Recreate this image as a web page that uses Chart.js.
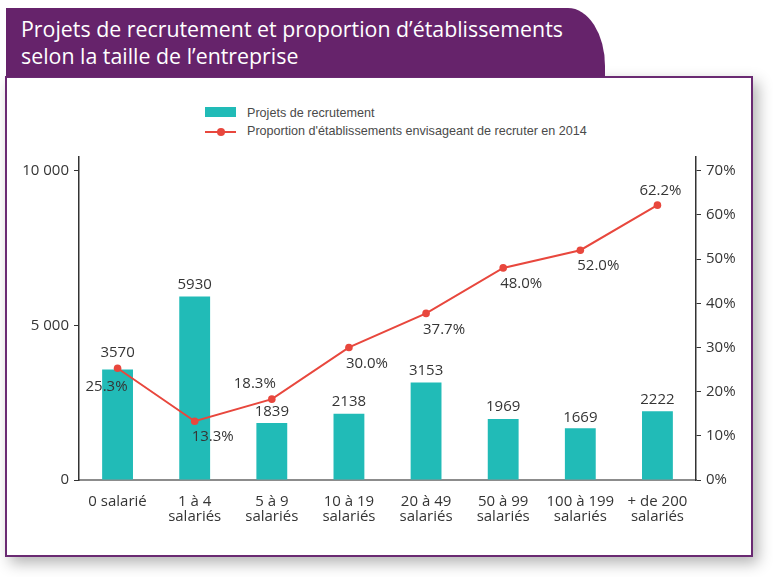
<!DOCTYPE html>
<html>
<head>
<meta charset="utf-8">
<script src="https://cdn.jsdelivr.net/npm/chart.js@4.4.0/dist/chart.umd.min.js"></script>
<style>
  html, body { margin:0; padding:0; background:#fff; }
  body { width:773px; height:577px; position:relative; overflow:hidden; }
  #box { position:absolute; left:5px; top:76px; width:748px; height:481px; box-sizing:border-box;
         border:2px solid #6a2a72; background:#fff; box-shadow:5px 6px 14px rgba(0,0,0,0.3); }
  #banner { position:absolute; left:6px; top:8px; width:599px; height:69px; background:#66236b;
            border-top-right-radius:37px 58px; }
  #title { position:absolute; left:21px; top:16px; color:#fff; font-family:"Open Sans", sans-serif;
           font-size:21px; line-height:27px; white-space:nowrap; transform-origin:0 0; }
  #title span { display:inline-block; }
  canvas#c { position:absolute; left:0; top:0; }
  .leg { position:absolute; font-family:"Liberation Sans", Arial, sans-serif; font-size:12.6px; color:#4a4a4a; white-space:nowrap; }
</style>
</head>
<body>
<div id="box"></div>
<div id="banner"></div>
<div id="title"><span id="t1">Projets de recrutement et proportion d’établissements</span><br><span id="t2">selon la taille de l’entreprise</span></div>
<div class="leg" style="left:205px; top:107px; width:31px; height:10px; background:#21bbb7;"></div>
<div class="leg" style="left:247px; top:105px; line-height:16px;">Projets de recrutement</div>
<div class="leg" style="left:205px; top:131px; width:31px; height:2px; background:#e8473d;"></div>
<div class="leg" style="left:217px; top:128px; width:8px; height:8px; border-radius:50%; background:#e8473d;"></div>
<div class="leg" style="left:247px; top:123px; line-height:16px;">Proportion d'établissements envisageant de recruter en 2014</div>
<canvas id="c" width="773" height="577"></canvas>
<script>
// ---- data ----
const categories = ['0 salarié', ['1 à 4', 'salariés'], ['5 à 9', 'salariés'], ['10 à 19', 'salariés'],
                    ['20 à 49', 'salariés'], ['50 à 99', 'salariés'], ['100 à 199', 'salariés'], ['+ de 200', 'salariés']];
const recruitmentProjects = [3570, 5930, 1839, 2138, 3153, 1969, 1669, 2222];
const establishmentShare = [25.3, 13.3, 18.3, 30.0, 37.7, 48.0, 52.0, 62.2];
const leftTicks = [0, 5000, 10000];
const rightTicks = [0, 10, 20, 30, 40, 50, 60, 70];

// label placement for the percentage labels (style only)
const shareLabelPlace = ['bl', 'br', 'tl', 'br', 'br', 'br', 'br', 't'];
const placeOffsets = { bl: [-11, 19], br: [18, 16], tl: [-17, -15], t: [3, -14] };
const barLabelLift = [17, 12, 11, 12, 12, 12, 11, 12];

// fit title width
(function () {
  const t = document.getElementById('title');
  const w = document.getElementById('t1').getBoundingClientRect().width;
  t.style.transform = 'scaleX(' + (542 / w) + ')';
})();

const FONT = '"Open Sans", sans-serif';
const TXT = '#353535';
const fmtThousands = v => String(v).replace(/\B(?=(\d{3})+(?!\d))/g, ' ');

const labelPlugin = {
  id: 'valueLabels',
  afterDatasetsDraw(chart) {
    const ctx = chart.ctx;
    ctx.save();
    ctx.font = '15px ' + FONT;
    ctx.fillStyle = TXT;
    ctx.textAlign = 'center';
    ctx.textBaseline = 'middle';
    const bars = chart.getDatasetMeta(0).data;
    bars.forEach((el, i) => {
      ctx.fillText(String(recruitmentProjects[i]), el.x, el.y - barLabelLift[i]);
    });
    const pts = chart.getDatasetMeta(1).data;
    pts.forEach((el, i) => {
      const o = placeOffsets[shareLabelPlace[i]];
      ctx.fillText(establishmentShare[i].toFixed(1) + '%', el.x + o[0], el.y + o[1]);
    });
    ctx.restore();
  }
};

new Chart(document.getElementById('c'), {
  data: {
    labels: categories,
    datasets: [
      {
        type: 'bar',
        label: 'Projets de recrutement',
        data: recruitmentProjects,
        backgroundColor: '#21bbb7',
        barPercentage: 0.5,
        categoryPercentage: 0.8,
        yAxisID: 'y',
        order: 1
      },
      {
        type: 'line',
        label: "Proportion d'établissements envisageant de recruter en 2014",
        data: establishmentShare,
        borderColor: '#e8473d',
        backgroundColor: '#e8473d',
        borderWidth: 2,
        pointRadius: 3.8,
        pointBackgroundColor: '#e8473d',
        pointBorderWidth: 0,
        tension: 0,
        yAxisID: 'y1',
        order: 0
      }
    ]
  },
  options: {
    responsive: false,
    animation: false,
    devicePixelRatio: 1,
    layout: { padding: { top: 157, left: 0, right: 0, bottom: 0 } },
    plugins: { legend: { display: false }, tooltip: { enabled: false } },
    scales: {
      x: {
        type: 'category',
        grid: { display: false, drawTicks: false },
        border: { display: true, color: '#8c8c8c', width: 2 },
        ticks: { font: { family: FONT, size: 15, lineHeight: 1.02 }, color: TXT, padding: 14,
                 maxRotation: 0, autoSkip: false },
        afterFit: s => { s.height = 97; }
      },
      y: {
        position: 'left',
        min: 0, max: 10440,
        afterBuildTicks: s => { s.ticks = leftTicks.map(v => ({ value: v })); },
        grid: { drawOnChartArea: false, drawTicks: true, tickLength: 5, color: '#333', lineWidth: 1 },
        border: { display: true, color: '#333', width: 1.5 },
        ticks: { font: { family: FONT, size: 15 }, color: TXT, padding: 5, callback: v => fmtThousands(v) },
        afterFit: s => { s.width = 79; }
      },
      y1: {
        position: 'right',
        min: 0, max: 73.1,
        afterBuildTicks: s => { s.ticks = rightTicks.map(v => ({ value: v })); },
        grid: { drawOnChartArea: false, drawTicks: true, tickLength: 5, color: '#333', lineWidth: 1 },
        border: { display: true, color: '#333', width: 1.5 },
        ticks: { font: { family: FONT, size: 15 }, color: TXT, padding: 5, callback: v => v + '%' },
        afterFit: s => { s.width = 77; }
      }
    }
  },
  plugins: [labelPlugin]
});
</script>
</body>
</html>
